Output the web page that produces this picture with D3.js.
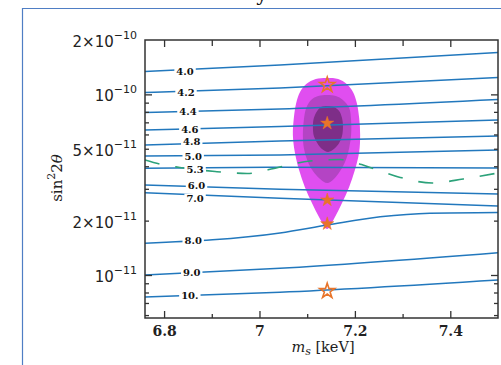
<!DOCTYPE html>
<html>
<head>
<meta charset="utf-8">
<script src="https://cdn.jsdelivr.net/npm/d3@7"></script>
<style>
body { margin: 0; background: #fff; }
svg { display: block; }
</style>
</head>
<body>
<div id="chart"></div>
<script>
// contour levels, each line as [m_s (keV), sin^2 2theta] pairs
var levels = ["4.0", "4.2", "4.4", "4.6", "4.8", "5.0", "5.3", "6.0", "7.0", "8.0", "9.0", "10."];
var contourLines = [
  [[6.76, 1.34e-10], [7.043, 1.455e-10], [7.50, 1.706e-10]],
  [[6.76, 1.024e-10], [7.043, 1.084e-10], [7.50, 1.24e-10]],
  [[6.76, 7.94e-11], [7.043, 8.30e-11], [7.50, 9.37e-11]],
  [[6.76, 6.35e-11], [7.043, 6.64e-11], [7.50, 7.21e-11]],
  [[6.76, 5.25e-11], [7.043, 5.52e-11], [7.50, 5.88e-11]],
  [[6.76, 4.56e-11], [7.043, 4.62e-11], [7.50, 4.92e-11]],
  [[6.76, 3.90e-11], [7.043, 3.95e-11], [7.50, 3.91e-11]],
  [[6.76, 3.15e-11], [7.043, 2.98e-11], [7.50, 2.81e-11]],
  [[6.76, 2.85e-11], [7.043, 2.66e-11], [7.50, 2.41e-11]],
  [[6.76, 1.50e-11], [7.043, 1.71e-11], [7.142, 1.89e-11], [7.253, 2.10e-11], [7.357, 2.20e-11], [7.50, 2.22e-11]],
  [[6.76, 1.0e-11], [7.043, 1.09e-11], [7.50, 1.33e-11]],
  [[6.76, 7.55e-12], [7.043, 8.02e-12], [7.50, 9.38e-12]]
];
// where each level label sits
var labelMs = [6.844, 6.846, 6.850, 6.854, 6.858, 6.861, 6.865, 6.868, 6.865, 6.861, 6.858, 6.854];
var labelVals = [1.335e-10, 1.027e-10, 8.02e-11, 6.40e-11, 5.47e-11, 4.56e-11, 3.86e-11, 3.15e-11, 2.66e-11, 1.56e-11, 1.03e-11, 7.75e-12];

// dashed green curve
var dashMs = [6.760, 6.791, 6.833, 6.907, 6.974, 7.039, 7.106, 7.169, 7.232, 7.295, 7.362, 7.427, 7.500];
var dashVals = [4.33e-11, 4.11e-11, 3.94e-11, 3.74e-11, 3.65e-11, 3.94e-11, 4.28e-11, 4.36e-11, 3.94e-11, 3.47e-11, 3.23e-11, 3.40e-11, 3.67e-11];

// confidence regions
var regionOuter = [[7.142,1.232e-10],[7.165,1.216e-10],[7.183,1.141e-10],[7.196,1.031e-10],[7.204,8.96e-11],[7.209,7.39e-11],[7.211,5.96e-11],[7.209,4.80e-11],[7.200,3.81e-11],[7.188,3.07e-11],[7.173,2.50e-11],[7.158,2.09e-11],[7.142,1.80e-11],[7.125,2.09e-11],[7.110,2.50e-11],[7.095,3.07e-11],[7.083,3.81e-11],[7.074,4.80e-11],[7.070,5.96e-11],[7.072,7.39e-11],[7.077,8.96e-11],[7.085,1.031e-10],[7.098,1.141e-10],[7.118,1.216e-10]];
var regionMid = [[7.142,9.92e-11],[7.160,9.79e-11],[7.175,9.31e-11],[7.188,8.40e-11],[7.192,7.21e-11],[7.192,5.96e-11],[7.188,5.05e-11],[7.181,4.33e-11],[7.169,3.76e-11],[7.156,3.40e-11],[7.142,3.23e-11],[7.127,3.40e-11],[7.112,3.76e-11],[7.100,4.33e-11],[7.093,5.05e-11],[7.091,5.96e-11],[7.093,7.21e-11],[7.098,8.40e-11],[7.108,9.31e-11],[7.123,9.79e-11]];
var regionInner = [[7.142,8.62e-11],[7.156,8.51e-11],[7.167,8.09e-11],[7.173,7.39e-11],[7.175,6.60e-11],[7.173,5.88e-11],[7.167,5.38e-11],[7.156,4.98e-11],[7.144,4.80e-11],[7.131,4.98e-11],[7.121,5.38e-11],[7.114,5.88e-11],[7.112,6.60e-11],[7.114,7.39e-11],[7.121,8.09e-11],[7.129,8.51e-11]];

// stars
var starMs = [7.142, 7.142, 7.142, 7.142, 7.142];
var starVals = [1.127e-10, 6.92e-11, 2.60e-11, 1.92e-11, 8.15e-12];
var starKind = ["open", "filled", "filled", "filled", "open"];

// ticks
var xMajor = [6.8, 7.0, 7.2, 7.4];
var xMinor = [6.9, 7.1, 7.3];
var xTickText = ["6.8", "7", "7.2", "7.4"];
var yMajor = [1e-11, 1e-10];
var yMinor = [6e-12, 7e-12, 8e-12, 9e-12, 2e-11, 3e-11, 4e-11, 5e-11, 6e-11, 7e-11, 8e-11, 9e-11];
var yLabelVals = [2e-10, 1e-10, 5e-11, 2e-11, 1e-11];
var yLabelMant = ["2×10", "10", "5×10", "2×10", "10"];
var yLabelExp = ["−10", "−10", "−11", "−11", "−11"];

var w = 501, h = 365;
var margin = {top: 40, right: 3, bottom: 47, left: 145};
var width = w - margin.left - margin.right;
var height = h - margin.top - margin.bottom;

var svg = d3.select("#chart").append("svg")
    .attr("width", w)
    .attr("height", h);

// outer frame of the figure
svg.append("path")
    .attr("d", "M22.5," + h + " V8.5 H" + w)
    .attr("fill", "none")
    .attr("stroke", "#4f7ec4")
    .attr("stroke-width", 1.2);

svg.append("text")
    .attr("x", 262)
    .attr("y", 0.5)
    .attr("text-anchor", "middle")
    .attr("font-family", "DejaVu Serif")
    .attr("font-size", 20)
    .attr("fill", "#111")
    .text("y");

var x = d3.scaleLinear().domain([6.76, 7.5]).range([0, width]);
var y = d3.scaleLog().domain([5.78e-12, 2e-10]).range([height, 0]);

var g = svg.append("g")
    .attr("transform", "translate(" + margin.left + "," + margin.top + ")");

g.append("clipPath").attr("id", "plot")
  .append("rect").attr("width", width).attr("height", height);

var plot = g.append("g").attr("clip-path", "url(#plot)");

var area = d3.line()
    .x(function(d) { return x(d[0]); })
    .y(function(d) { return y(d[1]); })
    .curve(d3.curveCatmullRomClosed.alpha(0.5));

plot.append("path").attr("d", area(regionOuter)).attr("fill", "#e04ef0");
plot.append("path").attr("d", area(regionMid)).attr("fill", "#b444c4");
plot.append("path").attr("d", area(regionInner)).attr("fill", "#7e2e88");

var linef = d3.line()
    .x(function(d) { return x(d[0]); })
    .y(function(d) { return y(d[1]); })
    .curve(d3.curveMonotoneX);

plot.selectAll(".cline")
    .data(contourLines)
    .enter()
    .append("path")
    .attr("class", "cline")
    .attr("d", linef)
    .attr("fill", "none")
    .attr("stroke", "#2278bd")
    .attr("stroke-width", 1.5);

var dashData = dashMs.map(function(m, i) { return [m, dashVals[i]]; });
plot.append("path")
    .attr("d", linef(dashData))
    .attr("fill", "none")
    .attr("stroke", "#2ca27a")
    .attr("stroke-width", 1.6)
    .attr("stroke-dasharray", "15,16");

// level labels with a white gap in the line
var labs = plot.selectAll(".lab")
    .data(levels)
    .enter()
    .append("g")
    .attr("class", "lab")
    .attr("transform", function(d, i) {
      return "translate(" + x(labelMs[i]) + "," + y(labelVals[i]) + ")";
    });

labs.append("rect").attr("fill", "#fff");
labs.append("text")
    .attr("text-anchor", "middle")
    .attr("dy", "0.36em")
    .attr("font-family", "DejaVu Serif")
    .attr("font-weight", "bold")
    .attr("font-size", 10)
    .attr("fill", "#111")
    .text(function(d) { return d; });

labs.each(function() {
  var t = d3.select(this).select("text").node().getComputedTextLength();
  d3.select(this).select("rect")
    .attr("x", -t / 2 - 2).attr("y", -4.5)
    .attr("width", t + 4).attr("height", 9);
});

var star = d3.symbol().type(d3.symbolStar);
plot.selectAll(".star")
    .data(starMs)
    .enter()
    .append("path")
    .attr("class", "star")
    .attr("transform", function(d, i) { return "translate(" + x(d) + "," + y(starVals[i]) + ")"; })
    .attr("d", function(d, i) { return star.size(starKind[i] == "open" ? 70 : 55)(); })
    .attr("fill", function(d, i) { return starKind[i] == "open" ? "none" : "#e8742a"; })
    .attr("stroke", "#e8742a")
    .attr("stroke-width", function(d, i) { return starKind[i] == "open" ? 1.6 : 0.5; });

// axes
function styleTicks(sel) {
  sel.select(".domain").remove();
  sel.selectAll(".tick line").attr("stroke", "#333").attr("stroke-width", 1.3);
}

g.append("g")
    .attr("transform", "translate(0," + height + ")")
    .call(d3.axisBottom(x).tickValues(xMajor).tickSize(-7).tickPadding(8)
      .tickFormat(function(d, i) { return xTickText[i]; }))
    .call(styleTicks)
    .attr("font-family", "DejaVu Serif")
    .attr("font-weight", "bold")
    .attr("font-size", 14)
    .selectAll("text").attr("fill", "#222");

g.append("g")
    .attr("transform", "translate(0," + height + ")")
    .call(d3.axisBottom(x).tickValues(xMinor).tickSize(-4).tickFormat(""))
    .call(styleTicks);

g.append("g")
    .call(d3.axisTop(x).tickValues(xMajor).tickSize(-7).tickFormat(""))
    .call(styleTicks);
g.append("g")
    .call(d3.axisTop(x).tickValues(xMinor).tickSize(-6).tickFormat(""))
    .call(styleTicks);

g.append("g")
    .call(d3.axisLeft(y).tickValues(yMajor).tickSize(-7).tickFormat(""))
    .call(styleTicks);
g.append("g")
    .call(d3.axisLeft(y).tickValues(yMinor).tickSize(-4).tickFormat(""))
    .call(styleTicks);
g.append("g")
    .attr("transform", "translate(" + width + ",0)")
    .call(d3.axisRight(y).tickValues(yMajor).tickSize(-7).tickFormat(""))
    .call(styleTicks);
g.append("g")
    .attr("transform", "translate(" + width + ",0)")
    .call(d3.axisRight(y).tickValues(yMinor).tickSize(-4).tickFormat(""))
    .call(styleTicks);

g.append("rect")
    .attr("width", width)
    .attr("height", height)
    .attr("fill", "none")
    .attr("stroke", "#333")
    .attr("stroke-width", 1.5);

// y tick labels with powers of ten
var ylab = g.selectAll(".ylab")
    .data(yLabelVals)
    .enter()
    .append("text")
    .attr("class", "ylab")
    .attr("x", -8)
    .attr("y", function(d) { return y(d) + 7; })
    .attr("text-anchor", "end")
    .attr("font-family", "DejaVu Sans")
    .attr("font-size", 15)
    .attr("fill", "#222");
ylab.append("tspan").text(function(d, i) { return yLabelMant[i]; });
ylab.append("tspan")
    .attr("dy", -8)
    .attr("font-size", 11)
    .text(function(d, i) { return yLabelExp[i]; });

// axis titles
var xt = svg.append("text")
    .attr("x", 323)
    .attr("y", 352)
    .attr("text-anchor", "middle")
    .attr("font-family", "DejaVu Serif")
    .attr("font-size", 14.5)
    .attr("fill", "#222");
xt.append("tspan").attr("font-style", "italic").text("m");
xt.append("tspan").attr("font-style", "italic").attr("font-size", 11).attr("dy", 3).text("s");
xt.append("tspan").attr("dy", -3).text(" [keV]");

var yt = svg.append("text")
    .attr("transform", "translate(62,178) rotate(-90)")
    .attr("text-anchor", "middle")
    .attr("font-family", "DejaVu Serif")
    .attr("font-size", 15)
    .attr("fill", "#222");
yt.append("tspan").text("sin");
yt.append("tspan").attr("font-size", 11).attr("dy", -7).text("2");
yt.append("tspan").attr("dy", 7).text("2");
yt.append("tspan").attr("font-style", "italic").text("θ");
</script>
</body>
</html>
